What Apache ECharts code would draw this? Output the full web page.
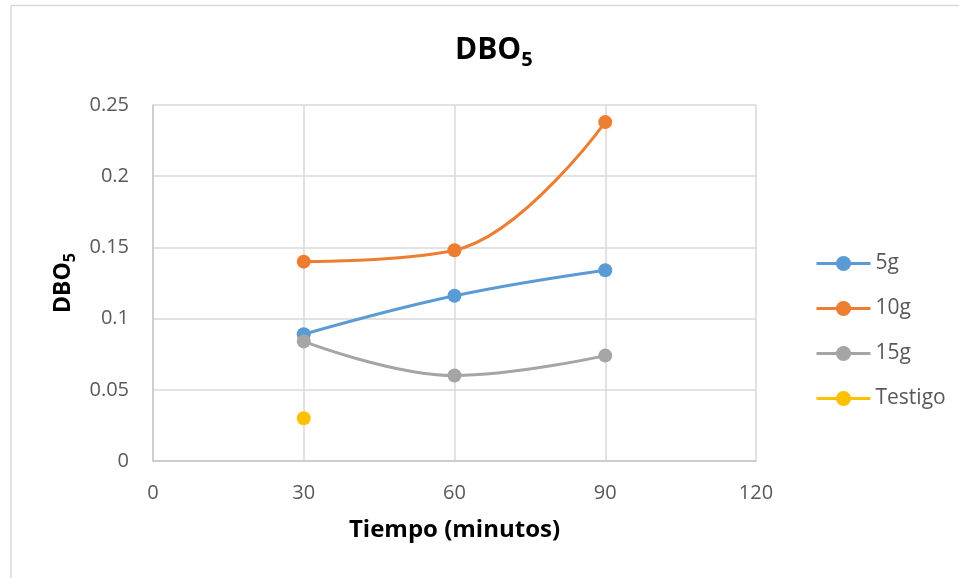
<!DOCTYPE html>
<html>
<head>
<meta charset="utf-8">
<script src="https://cdn.jsdelivr.net/npm/echarts@6/dist/echarts.min.js"></script>
<style>
  html, body { margin: 0; padding: 0; background: #fff; }
  #chart { width: 959px; height: 578px; }
</style>
</head>
<body>
<div id="chart"></div>
<script>
// DBO5 over time for each dose
const tiempo = [30, 60, 90];
const serie5g = [0.089, 0.116, 0.134];
const serie10g = [0.140, 0.148, 0.238];
const serie15g = [0.084, 0.060, 0.074];
const testigo = [0.030];
const xTicks = [0, 30, 60, 90, 120];
const yTicks = [0, 0.05, 0.1, 0.15, 0.2, 0.25];

const FONT = '"Open Sans", "Liberation Sans", sans-serif';

function pairs(xs, ys) {
  return ys.map((v, i) => [xs[i], v]);
}

const chart = echarts.init(document.getElementById('chart'), null, { renderer: 'canvas' });

function lineSeries(name, color, data) {
  return {
    name: name,
    type: 'line',
    smooth: 0.4,
    data: data,
    symbol: 'circle',
    symbolSize: 14,
    lineStyle: { color: color, width: 3 },
    itemStyle: { color: color },
    emphasis: { disabled: true }
  };
}

chart.setOption({
  animation: false,
  backgroundColor: '#fff',
  textStyle: { fontFamily: FONT },
  title: {
    text: '{a|DBO}{s|5}',
    left: 455,
    top: 30,
    padding: 0,
    textStyle: {
      rich: {
        a: { fontFamily: FONT, fontWeight: 'bold', fontSize: 30, color: '#000', lineHeight: 40 },
        s: { fontFamily: FONT, fontWeight: 'bold', fontSize: 20, color: '#000', lineHeight: 30, verticalAlign: 'bottom' }
      }
    }
  },
  grid: { left: 153, right: 203, top: 105, bottom: 117 },
  legend: {
    orient: 'vertical',
    left: 810,
    top: 248,
    itemWidth: 54,
    itemHeight: 19,
    itemGap: 24,
    lineStyle: { width: 3 },
    textStyle: { fontFamily: FONT, fontSize: 21, lineHeight: 20, color: '#595959' },
    data: ['5g', '10g', '15g', 'Testigo']
  },
  xAxis: {
    type: 'value',
    min: 0,
    max: 120,
    interval: 30,
    name: 'Tiempo (minutos)',
    nameLocation: 'middle',
    nameGap: 57,
    nameTextStyle: { fontFamily: FONT, fontWeight: 'bold', fontSize: 24, color: '#000' },
    axisLine: { show: true, lineStyle: { color: '#c8c8c8', width: 1.5 } },
    axisTick: { show: false },
    axisLabel: {
      margin: 22, fontSize: 20, color: '#595959', fontFamily: FONT,
      formatter: v => (xTicks.includes(v) ? String(v) : '')
    },
    splitLine: { show: true, lineStyle: { color: '#d9d9d9', width: 1.5 } }
  },
  yAxis: {
    type: 'value',
    min: 0,
    max: 0.25,
    interval: 0.05,
    name: '{a|DBO}{s|5}',
    nameLocation: 'middle',
    nameGap: 74,
    nameRotate: 90,
    nameTextStyle: {
      rich: {
        a: { fontFamily: FONT, fontWeight: 'bold', fontSize: 23, color: '#000', lineHeight: 30 },
        s: { fontFamily: FONT, fontWeight: 'bold', fontSize: 16, color: '#000', lineHeight: 22, verticalAlign: 'bottom' }
      }
    },
    axisLine: { show: true, lineStyle: { color: '#c8c8c8', width: 1.5 } },
    axisTick: { show: false },
    axisLabel: {
      margin: 24, fontSize: 20, color: '#595959', fontFamily: FONT,
      formatter: v => {
        const t = yTicks.find(y => Math.abs(y - v) < 1e-9);
        return t === undefined ? '' : String(t);
      }
    },
    splitLine: { show: true, lineStyle: { color: '#d9d9d9', width: 1.5 } }
  },
  graphic: [
    { type: 'line', shape: { x1: 11, y1: 5.5, x2: 959, y2: 5.5 }, style: { stroke: '#d9d9d9', lineWidth: 1.5 }, silent: true },
    { type: 'line', shape: { x1: 11, y1: 5.5, x2: 11, y2: 578 }, style: { stroke: '#d9d9d9', lineWidth: 1.5 }, silent: true }
  ],
  series: [
    lineSeries('5g', '#5B9BD5', pairs(tiempo, serie5g)),
    lineSeries('10g', '#ED7D31', pairs(tiempo, serie10g)),
    lineSeries('15g', '#A5A5A5', pairs(tiempo, serie15g)),
    lineSeries('Testigo', '#FFC000', pairs(tiempo, testigo))
  ]
});
</script>
</body>
</html>
